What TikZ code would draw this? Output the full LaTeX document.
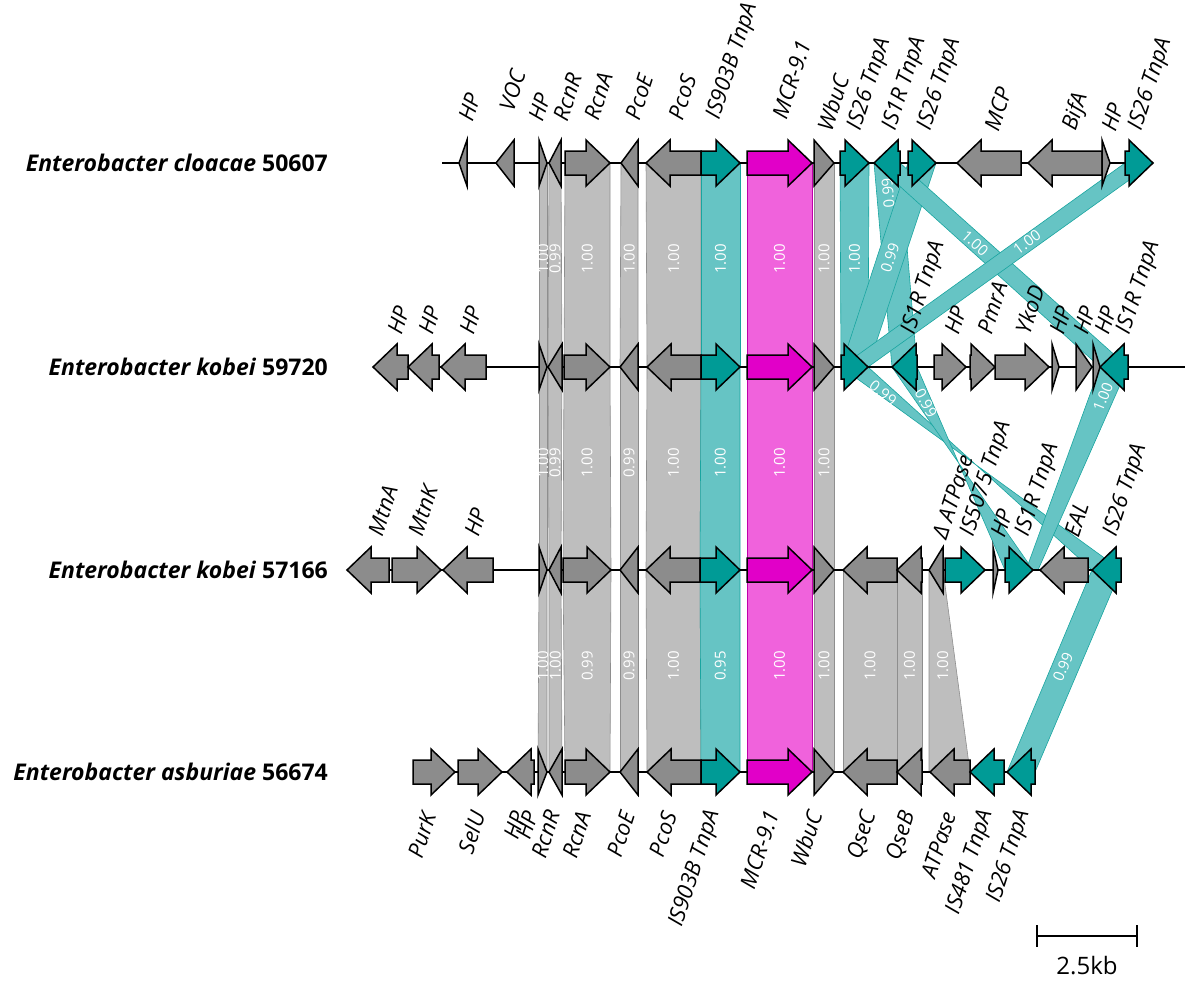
\documentclass[tikz,border=0pt]{standalone}
\usepackage{fontspec}
\setmainfont{Open Sans}
\usepackage{tikz}
\definecolor{gg}{HTML}{8C8C8C}
\definecolor{gt}{HTML}{009B96}
\definecolor{gm}{HTML}{E100C8}
\definecolor{bg}{HTML}{BEBEBE}
\definecolor{bt}{HTML}{66C4C4}
\definecolor{bm}{HTML}{F062DC}

% row y, tip x, base x, fill
\newcommand{\drawgene}[4]{%
  \pgfmathsetmacro\glen{abs(#2-#3)}%
  \ifdim\glen pt<24pt
    \filldraw[gene, fill=#4] (#3,#1-23) -- (#2,#1) -- (#3,#1+23) -- cycle;
  \else
    \pgfmathsetmacro\hb{#2-sign(#2-#3)*24}%
    \filldraw[gene, fill=#4] (#3,#1-12) -- (\hb,#1-12) -- (\hb,#1-23) -- (#2,#1)
      -- (\hb,#1+23) -- (\hb,#1+12) -- (#3,#1+12) -- cycle;
  \fi}
% y1, a1, a2, y2, b1, b2, style
\newcommand{\drawband}[7]{%
  \filldraw[#7] (#2,#1) -- (#3,#1) -- (#6,#4) -- (#5,#4) -- cycle;}

\begin{document}
\begin{tikzpicture}[x=1pt,y=-1pt,
    gene/.style={draw=black, line width=1.5pt},
    backbone/.style={draw=black, line width=1.4pt},
    graybd/.style={fill=bg, draw=bg!75!black, line width=0.6pt},
    tealbd/.style={fill=bt, draw=gt!90!white, line width=0.6pt},
    magbd/.style={fill=bm, draw=gm!85!black, line width=0.6pt},
    bandlbl/.style={text=white, font=\fontsize{15}{15}\selectfont, inner sep=0pt},
    glbl/.style={font=\fontsize{22}{22}\selectfont\itshape, rotate=72, anchor=west, inner sep=0pt},
    glbb/.style={glbl, anchor=east},
    orglbl/.style={font=\fontsize{23}{23}\selectfont\bfseries, anchor=east, inner sep=0pt}]
  \useasboundingbox (0,0) rectangle (1193,986);

  % row 1 -> row 2
  \foreach \a/\b/\cc/\d/\s/\v [count=\i] in {539/547/539/547/graybd/1.00, 549/561/548/562/graybd/0.99,
      565/610/564/610/graybd/1.00, 621/638/620/638/graybd/1.00, 646/701/647/701/graybd/1.00,
      701/740/701/740/tealbd/1.00, 747/812/747/812/magbd/1.00, 814/834/814/834/graybd/1.00,
      840/869/841/868/tealbd/1.00}
  {\drawband{163}{\a}{\b}{367}{\cc}{\d}{\s}
   \node[bandlbl, rotate=90] (ga\i) at ({(\a+\b+\cc+\d)/4},259) {\v};}
  \drawband{163}{874}{900}{367}{892}{917}{tealbd}
  \drawband{163}{908}{936}{367}{841}{868}{tealbd}
  \drawband{163}{874}{900}{367}{1100}{1128}{tealbd}
  \drawband{163}{1125}{1153}{367}{841}{868}{tealbd}
  \node[bandlbl, rotate=95] (gx1) at (888,193) {0.99};
  \node[bandlbl, rotate=72] (gx2) at (890,258) {0.99};
  \node[bandlbl, rotate=-42] (gx3) at (975,243) {1.00};
  \node[bandlbl, rotate=36] (gx4) at (1027,242) {1.00};

  % row 2 -> row 3
  \foreach \a/\b/\cc/\d/\s/\v [count=\i] in {539/547/539/547/graybd/1.00, 548/562/549/561/graybd/0.99,
      564/610/563/611/graybd/1.00, 620/638/620/638/graybd/0.99, 647/701/646/700/graybd/1.00,
      701/740/700/740/tealbd/1.00, 747/812/747/812/magbd/1.00, 814/834/814/834/graybd/1.00}
  {\drawband{367}{\a}{\b}{570}{\cc}{\d}{\s}
   \node[bandlbl, rotate=90] (gb\i) at ({(\a+\b+\cc+\d)/4},463) {\v};}
  \drawband{367}{841}{868}{570}{1121}{1092}{tealbd}
  \drawband{367}{892}{917}{570}{1033}{1005}{tealbd}
  \drawband{367}{1100}{1128}{570}{1026}{1038}{tealbd}
  \node[bandlbl, rotate=-39] (gy1) at (883,393) {0.99};
  \node[bandlbl, rotate=-61] (gy2) at (926,403) {0.99};
  \node[bandlbl, rotate=68] (gy3) at (1103,397) {1.00};

  % row 3 -> row 4
  \foreach \a/\b/\cc/\d/\s/\v [count=\i] in {539/547/538/547/graybd/1.00, 549/561/549/562/graybd/1.00,
      563/611/565/610/graybd/0.99, 620/638/620/638/graybd/0.99, 646/700/647/701/graybd/1.00,
      700/740/701/740/tealbd/0.95, 747/812/747/812/magbd/1.00, 814/834/814/834/graybd/1.00,
      843/897/843/897/graybd/1.00, 897/922/897/922/graybd/1.00, 929/943/929/970/graybd/1.00}
  {\drawband{570}{\a}{\b}{772}{\cc}{\d}{\s}
   \node[bandlbl, rotate=90] (gc\i) at ({(\a+\b+\cc+\d)/4},666) {\v};}
  \drawband{570}{1092}{1121}{772}{1007}{1035}{tealbd}
  \node[bandlbl, rotate=67] (gz1) at (1063,667) {0.99};

  % backbones
  \draw[backbone] (442,163) -- (1153,163);
  \draw[backbone] (373,367) -- (1185,367);
  \draw[backbone] (347,570) -- (1121,570);
  \draw[backbone] (413,772) -- (1035,772);

  % genes: tip/base/colour
  \foreach \tp/\bs/\col in {459/467/gg, 496/514/gg, 547/539/gg, 549/561/gg, 610/565/gg,
      621/638/gg, 646/701/gg, 740/701/gt, 812/747/gm, 834/814/gg, 869/840/gt, 874/900/gt,
      936/908/gt, 957/1021/gg, 1028/1102/gg, 1110/1102/gg, 1153/1125/gt}
    {\drawgene{163}{\tp}{\bs}{\col}}
  \foreach \tp/\bs/\col in {373/408/gg, 408/439/gg, 441/486/gg, 547/539/gg, 548/562/gg,
      610/564/gg, 620/638/gg, 647/701/gg, 740/701/gt, 812/747/gm, 834/814/gg, 868/841/gt,
      892/917/gt, 966/934/gg, 995/970/gg, 1049/995/gg, 1059/1052/gg, 1092/1076/gg,
      1100/1093/gg, 1100/1128/gt}
    {\drawgene{367}{\tp}{\bs}{\col}}
  \foreach \tp/\bs/\col in {347/389/gg, 441/392/gg, 443/493/gg, 547/539/gg, 549/561/gg,
      611/563/gg, 620/638/gg, 646/700/gg, 740/700/gt, 812/747/gm, 834/814/gg, 843/897/gg,
      897/922/gg, 929/943/gg, 985/945/gt, 998/993/gg, 1033/1005/gt, 1040/1088/gg, 1092/1121/gt}
    {\drawgene{570}{\tp}{\bs}{\col}}
  \foreach \tp/\bs/\col in {455/413/gg, 502/458/gg, 507/534/gg, 547/538/gg, 549/562/gg,
      610/565/gg, 620/638/gg, 647/701/gg, 740/701/gt, 812/747/gm, 834/814/gg, 843/897/gg,
      897/922/gg, 930/970/gg, 970/1004/gt, 1007/1035/gt}
    {\drawgene{772}{\tp}{\bs}{\col}}

  % gene labels
  \foreach \x/\y/\txt [count=\i] in {465/120/HP, 506/110/VOC, 535/120/HP, 560/120/RcnR,
      591/119/RcnA, 632/119/PcoE, 675/119/PcoS, 714/119/IS903B TnpA, 779/118/MCR-9.1,
      824/130/WbuC, 855/130/IS26 TnpA, 890/130/IS1R TnpA, 925/130/IS26 TnpA, 991/130/MCP,
      1070/130/BifA, 1108/130/HP, 1136/130/IS26 TnpA}
    \node[glbl] (la\i) at (\x,\y) {\txt};
  \foreach \x/\y/\txt [count=\i] in {394/333/HP, 425/333/HP, 466/333/HP, 909/334/IS1R TnpA,
      951/333/HP, 984/333/PmrA, 1022/333/YkoD, 1056/333/HP, 1080/333/HP, 1101/333/HP,
      1124/334/IS1R TnpA}
    \node[glbl] (lb\i) at (\x,\y) {\txt};
  \foreach \x/\y/\txt [count=\i] in {375/535/MtnA, 415/535/MtnK, 471/535/HP,
      939/538/Δ ATPase, 968/536/IS5075 TnpA, 997/536/HP, 1023/536/IS1R TnpA, 1071/536/EAL,
      1111/536/IS26 TnpA}
    \node[glbl] (lc\i) at (\x,\y) {\txt};
  \foreach \x/\y/\txt [count=\i] in {429/813/PurK, 478/812/SelU, 519/812/HP, 531/812/HP,
      553/811/RcnR, 584/812/RcnA, 628/812/PcoE, 670/812/PcoS, 714/811/IS903B TnpA,
      772/811/MCR-9.1, 815/811/WbuC, 870/812/QseC, 909/812/QseB, 949/812/ATPase,
      987/811/IS481 TnpA, 1024/811/IS26 TnpA}
    \node[glbb] (ld\i) at (\x,\y) {\txt};

  % strains
  \node[orglbl] (s1) at (328,163) {\textit{Enterobacter cloacae} 50607};
  \node[orglbl] (s2) at (328,367) {\textit{Enterobacter kobei} 59720};
  \node[orglbl] (s3) at (328,570) {\textit{Enterobacter kobei} 57166};
  \node[orglbl] (s4) at (328,772) {\textit{Enterobacter asburiae} 56674};

  % scale
  \coordinate (sbl) at (1037,936);
  \coordinate (sbr) at (1137,936);
  \draw[line width=1.6pt] (sbl) -- (sbr);
  \draw[line width=1.6pt] (1037,925) -- (1037,947) (1137,925) -- (1137,947);
  \node[font=\fontsize{24}{24}\selectfont] (sb) at (1087,966) {2.5kb};
\end{tikzpicture}
\end{document}
